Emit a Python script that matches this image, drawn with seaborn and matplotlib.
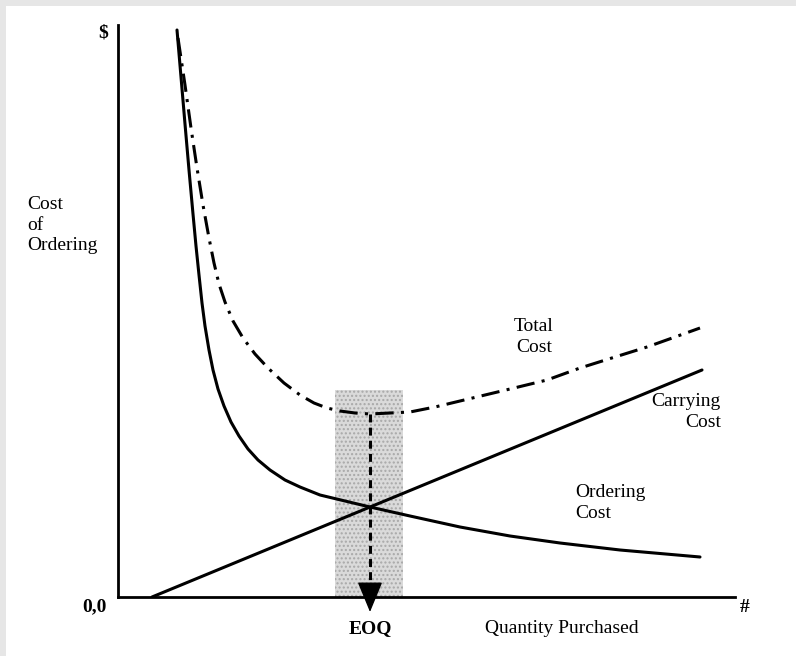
import matplotlib
matplotlib.use("Agg")
import matplotlib.pyplot as plt
import seaborn as sns
from matplotlib.patches import Rectangle

# ==============================
# Settings
# ==============================
sns.set_theme(style="white")
plt.rcParams["font.family"] = ["Liberation Serif", "DejaVu Serif"]
FONT_SIZE = 14
LW = 2.2

# ==============================
# Data (drawing units)
# ==============================
order_qty = [59, 63, 67, 71, 75, 78, 81, 84, 87, 91, 95, 100, 106, 113, 121,
             130, 140, 152, 167, 182, 202, 227, 252, 292, 342, 392, 442, 502, 582]
order_cost = [567, 520, 473, 427, 383, 351, 322, 294, 271, 247, 227, 208, 191, 175, 161,
              148, 137, 127, 117, 110, 102, 96, 90, 81, 70, 61, 54, 47, 40]

carry_qty = [34, 584]
carry_cost = [0, 227]

total_qty = [60, 67, 73, 79, 85, 91, 96, 101, 107, 115, 125, 137, 150, 166, 182, 196,
             209, 222, 237, 252, 272, 292, 317, 342, 367, 392, 429, 462, 497, 529, 557, 582]
total_cost = [559, 512, 469, 429, 392, 359, 334, 313, 295, 276, 259, 243, 229, 214, 202, 194,
              189, 186, 184, 183, 184, 185, 190, 196, 202, 208, 217, 229, 240, 250, 260, 269]

eoq = 252
eoq_band = [217, 285]
band_top = 207
arrow_base = 12
arrow_tip = -15

# ==============================
# Figure
# ==============================
fig = plt.figure(figsize=(7.96, 6.56), dpi=100, facecolor="#e6e6e6")
fig.patches.append(Rectangle((6 / 796, 0), 1, 650 / 656, transform=fig.transFigure,
                             facecolor="white", edgecolor="none", zorder=-5))

ax = fig.add_axes([118 / 796, 59 / 656, 617 / 796, 572 / 656])
ax.set_zorder(1)
ax.patch.set_alpha(0)
ax.set_xlim(0, 617)
ax.set_ylim(0, 572)

# shaded EOQ band
ax.fill_between(eoq_band, 0, band_top, facecolor="#dadada", edgecolor="#a8a8a8",
                hatch="....", linewidth=0, zorder=1)

# curves
sns.lineplot(x=order_qty, y=order_cost, color="black", lw=LW, ax=ax, estimator=None,
             sort=False, zorder=3)
sns.lineplot(x=carry_qty, y=carry_cost, color="black", lw=LW, ax=ax, estimator=None,
             sort=False, zorder=3)
sns.lineplot(x=total_qty, y=total_cost, color="black", lw=LW, ax=ax, estimator=None,
             sort=False, linestyle=(0, (6, 2.4, 1, 2.4)), zorder=3)

# EOQ dashed drop line + arrow head
ax.plot([eoq, eoq], [min(total_cost), arrow_base], color="black", lw=LW,
        linestyle=(0, (2.6, 1.7)), clip_on=False, zorder=4)
ax.annotate("", xy=(eoq, arrow_tip), xytext=(eoq, arrow_base),
            arrowprops=dict(arrowstyle="-|>,head_length=0.97,head_width=0.4",
                            mutation_scale=20, color="black", lw=1,
                            shrinkA=0, shrinkB=0),
            annotation_clip=False, zorder=5)

# axes look
for side in ["top", "right"]:
    ax.spines[side].set_visible(False)
for side in ["left", "bottom"]:
    ax.spines[side].set_linewidth(2.0)
    ax.spines[side].set_color("black")
ax.set_xticks([])
ax.set_yticks([])
ax.set_xlabel("")
ax.set_ylabel("")

# ==============================
# Labels
# ==============================
txt = dict(fontsize=FONT_SIZE, color="black", clip_on=False)
ax.text(-15, 564, "$", ha="center", va="center", fontweight="bold", **txt)
ax.text(-91, 401, "Cost\nof\nOrdering", ha="left", va="top", linespacing=1.28, **txt)
ax.text(-11, -10, "0,0", ha="right", va="center", fontweight="bold", **txt)
ax.text(627, -10, "#", ha="center", va="center", fontweight="bold", **txt)
ax.text(eoq, -23, "EOQ", ha="center", va="top", fontweight="bold", **txt)
ax.text(367, -23, "Quantity Purchased", ha="left", va="top", **txt)
ax.text(416, 279, "Total\nCost", ha="center", va="top", multialignment="center",
        linespacing=1.28, **txt)
ax.text(603, 204, "Carrying\nCost", ha="right", va="top", multialignment="right",
        linespacing=1.28, **txt)
ax.text(457, 113, "Ordering\nCost", ha="left", va="top", linespacing=1.28, **txt)

fig.savefig("out.png", dpi=100, facecolor=fig.get_facecolor())
plt.close()
